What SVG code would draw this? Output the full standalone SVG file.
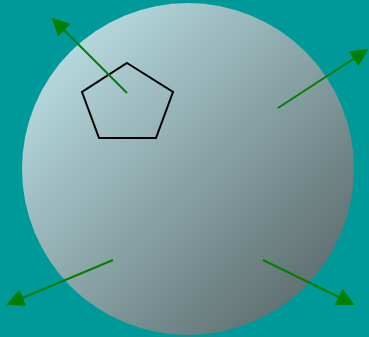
<svg xmlns="http://www.w3.org/2000/svg" width="369" height="337" viewBox="0 0 369 337">
<style>
.arrow{stroke:#008000;stroke-width:2;fill:none;marker-end:url(#ah)}
</style>
<defs>
<linearGradient id="g" x1="0" y1="0" x2="1" y2="1">
<stop offset="0" stop-color="#c6ecf2"/>
<stop offset="1" stop-color="#4f5d5d"/>
</linearGradient>
<marker id="ah" viewBox="0 0 10 10" refX="9" refY="5" markerWidth="9" markerHeight="9" orient="auto" markerUnits="strokeWidth">
<path d="M0,0 L10,5 L0,10 z" fill="#008000"/>
</marker>
</defs>
<rect width="369" height="337" fill="#009999"/>
<g id="sphere"><circle cx="188" cy="169" r="166" fill="url(#g)"/></g>
<g id="pentagon"><polygon points="127,63 173,92 156,138 99,138 82,92" fill="none" stroke="#000" stroke-width="2"/></g>
<g id="connectors">
<line class="arrow" x1="127" y1="93" x2="53" y2="19"/>
<line class="arrow" x1="278" y1="108" x2="367" y2="50"/>
<line class="arrow" x1="113" y1="260" x2="8" y2="304"/>
<line class="arrow" x1="263" y1="260" x2="353" y2="304"/>
</g>
</svg>
